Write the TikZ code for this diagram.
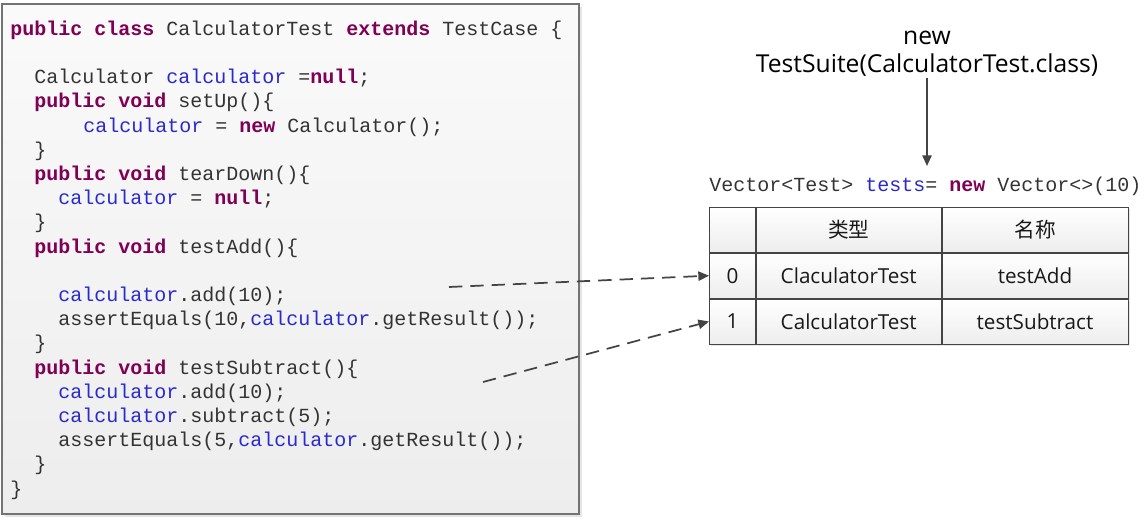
\documentclass[tikz,border=0pt]{standalone}
\usepackage{fontspec}
\usepackage{xcolor}
\usetikzlibrary{arrows.meta,positioning,shadows}
\setmainfont{Open Sans}
\setmonofont{Liberation Mono}
\newfontfamily\cjk{Noto Sans CJK SC}

\definecolor{kwcol}{HTML}{7F0055}
\definecolor{varcol}{HTML}{2A2ACC}
\definecolor{codecol}{HTML}{333333}
\definecolor{linecol}{HTML}{444444}

\newcommand{\kw}[1]{\textbf{\color{kwcol}#1}}
\newcommand{\vr}[1]{{\color{varcol}#1}}

\tikzset{
  codeline/.style={anchor=west,inner sep=0pt,font=\ttfamily\fontsize{15}{15}\selectfont,text=codecol,
    text height=10pt,text depth=2pt,yshift=-1.5pt},
  cell/.style={draw=linecol,line width=0.6pt,minimum height=33.75pt,inner sep=0pt,
    top color=white,bottom color=black!7,font=\fontsize{15.5}{15.5}\selectfont,text=black!90,
    drop shadow={shadow xshift=1.2pt,shadow yshift=-1.2pt,fill=black!12,opacity=0.8}},
  flow/.style={-{Triangle[length=8pt,width=7pt]},line width=1.3pt,draw=linecol},
  link/.style={flow,dash pattern=on 10pt off 6pt}
}

\begin{document}
\begin{tikzpicture}[x=0.75pt,y=-0.75pt]
  \useasboundingbox (0,0) rectangle (1148,520);

  % code box
  \draw[draw=black!55,line width=1.1pt,top color=black!2,bottom color=black!7,
    drop shadow={shadow xshift=2pt,shadow yshift=-2pt,fill=black!10,opacity=1}]
    (2,4) rectangle (579,514);

  \foreach \n/\x/\y/\txt in {
    1/10/28/{\kw{public class} CalculatorTest \kw{extends} TestCase \{},
    2/34/76/{Calculator \vr{calculator} =\kw{null};},
    3/34/100/{\kw{public void} setUp()\{},
    4/83/125/{\vr{calculator} = \kw{new} Calculator();},
    5/34/149/{\}},
    6/34/173/{\kw{public void} tearDown()\{},
    7/58/197/{\vr{calculator} = \kw{null};},
    8/34/221/{\}},
    9/34/246/{\kw{public void} testAdd()\{},
    10/58/294/{\vr{calculator}.add(10);},
    11/58/318/{assertEquals(10,\vr{calculator}.getResult());},
    12/34/342/{\}},
    13/34/367/{\kw{public void} testSubtract()\{},
    14/58/391/{\vr{calculator}.add(10);},
    15/58/415/{\vr{calculator}.subtract(5);},
    16/58/439/{assertEquals(5,\vr{calculator}.getResult());},
    17/34/463/{\}},
    18/10/488/{\}}} {
    \node[codeline] (code\n) at (\x,\y) {\txt};
  }

  % suite constructor
  \node[align=center,inner sep=1pt,font=\fontsize{18.5}{21}\selectfont] (suite) at (927,54)
    {new\\TestSuite(CalculatorTest.class)};
  \node[codeline] (vector) at (709,184)
    {Vector<Test> \vr{tests}= \kw{new} Vector<>(10)};

  % table
  \node[cell,minimum width=34.5pt,anchor=north west] (h0) at (709,207) {};
  \node[cell,minimum width=138.75pt,anchor=north west] (h1) at (h0.north east) {\cjk 类型};
  \node[cell,minimum width=139.5pt,anchor=north west] (h2) at (h1.north east) {\cjk 名称};
  \foreach \r/\p/\i/\cls/\meth in {0/h/0/ClaculatorTest/testAdd,1/r0/1/CalculatorTest/testSubtract} {
    \node[cell,minimum width=34.5pt,anchor=north west] (r\r0) at (\p0.south west) {\i};
    \node[cell,minimum width=138.75pt,anchor=north west] (r\r1) at (r\r0.north east) {\cls};
    \node[cell,minimum width=139.5pt,anchor=north west] (r\r2) at (r\r1.north east) {\meth};
  }

  \coordinate (suiteend) at (927,166);
  \draw[flow] (suite.south) -- (suiteend);
  \coordinate (fromadd) at (449,287);
  \coordinate (fromsub) at (483,382);
  \draw[link] (fromadd) -- (r00.west);
  \draw[link] (fromsub) -- (r10.west);
\end{tikzpicture}
\end{document}
